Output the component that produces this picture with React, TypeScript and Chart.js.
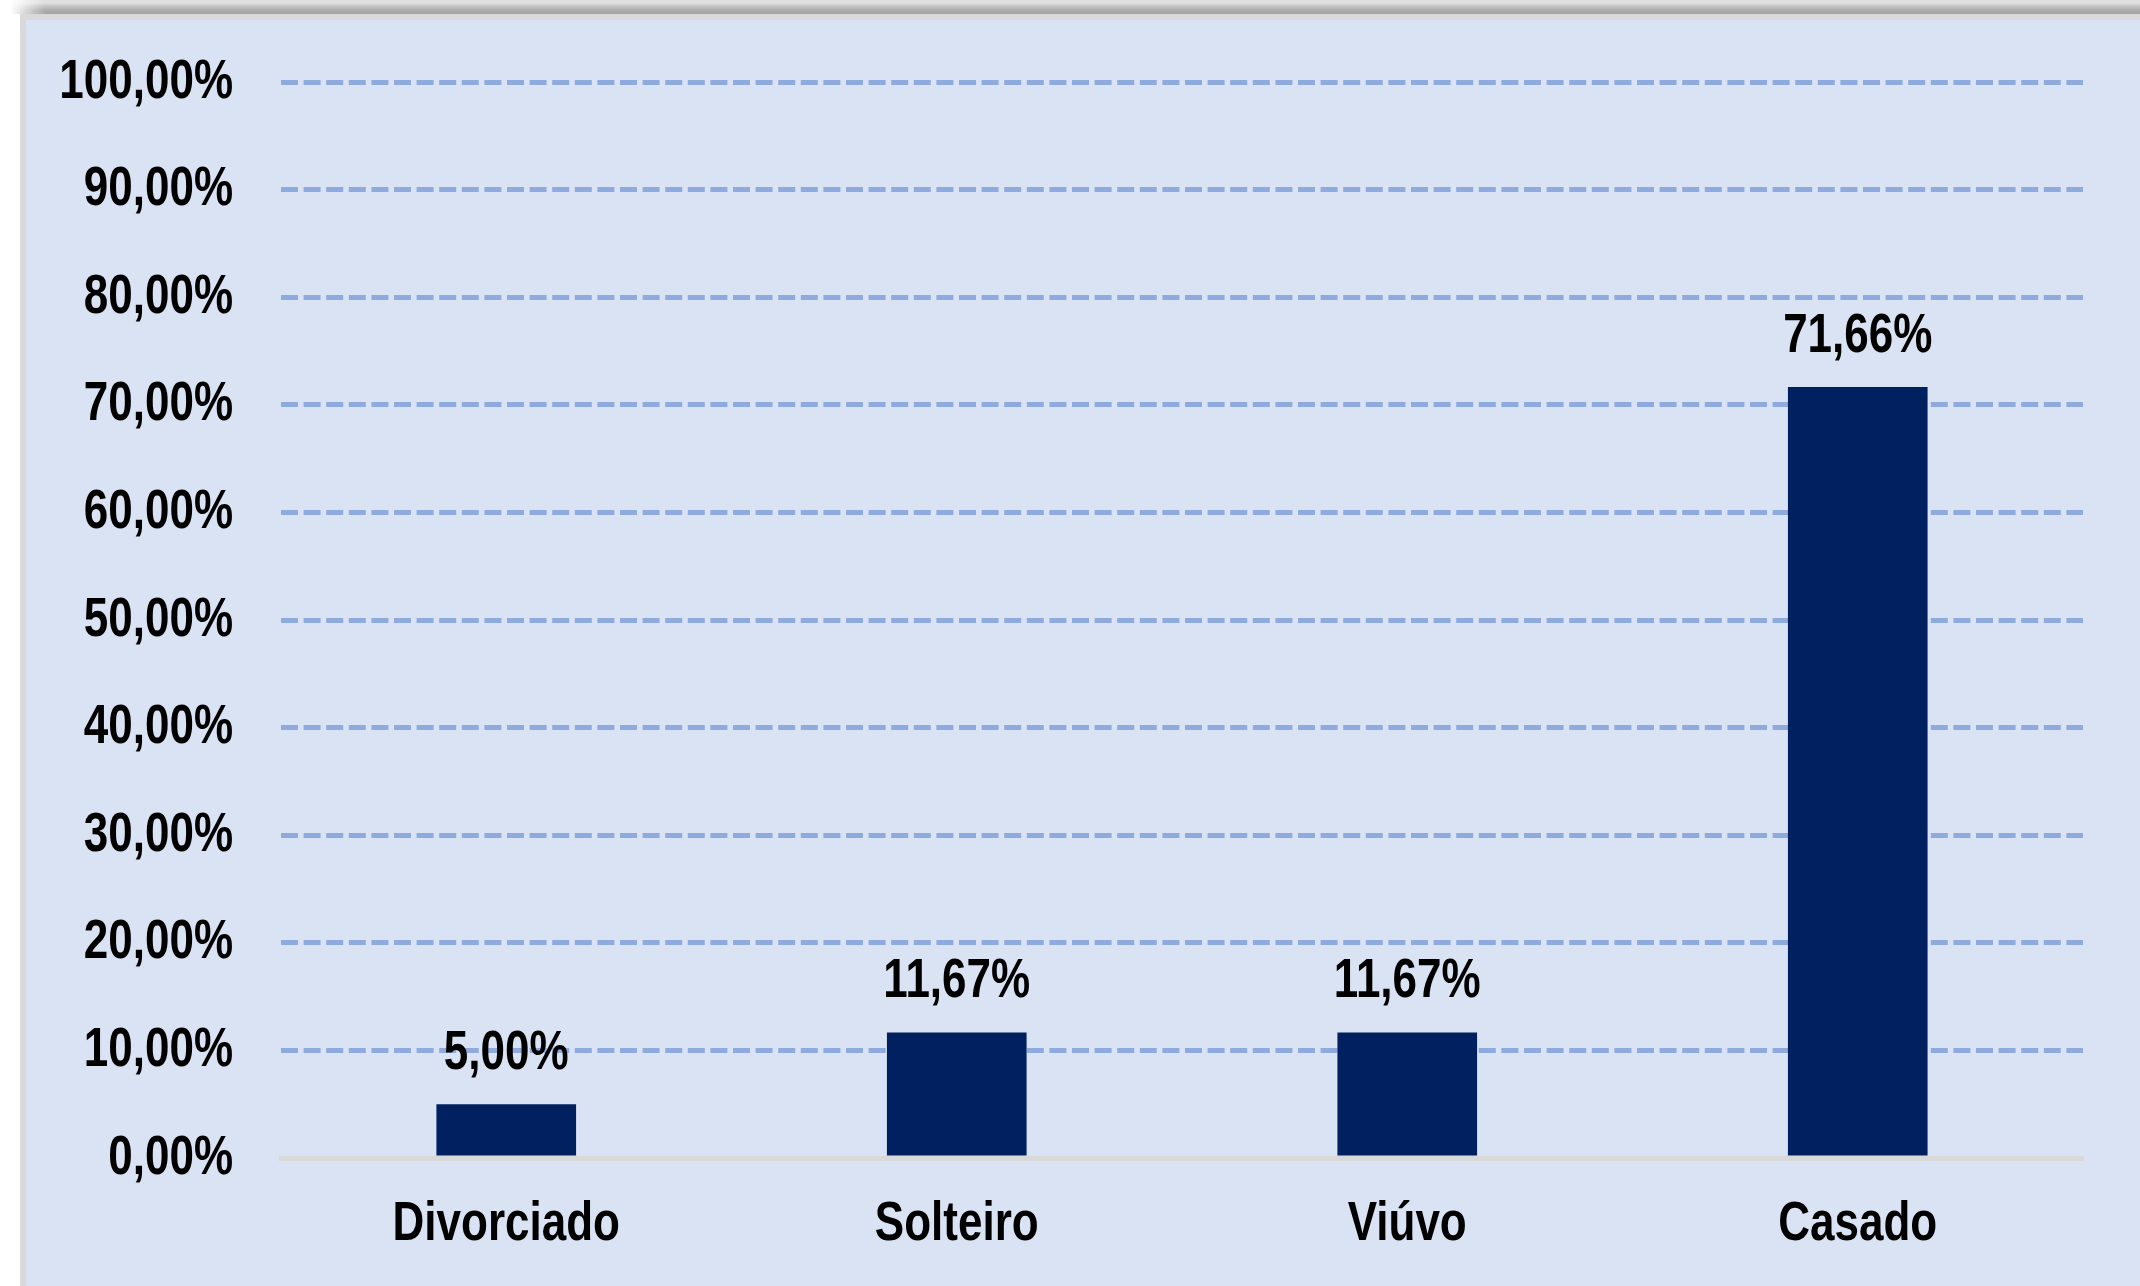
import React, { useEffect, useRef } from 'react';
import { Chart, registerables } from 'chart.js';

Chart.register(...registerables);

const categories: string[] = ['Divorciado', 'Solteiro', 'Viúvo', 'Casado'];
const values: number[] = [5.0, 11.67, 11.67, 71.66];
const valueLabels: string[] = ['5,00%', '11,67%', '11,67%', '71,66%'];
const yMin = 0;
const yMax = 100;
const yStep = 10;

const FONT = '"Liberation Sans", Arial, sans-serif';
const FONT_SIZE = 55;
const SCALE_X = 0.8;

const fmtPct = (v: number) => v.toFixed(2).replace('.', ',') + '%';

function drawNarrow(ctx: CanvasRenderingContext2D, text: string, x: number, y: number, align: CanvasTextAlign) {
  ctx.save();
  ctx.font = `bold ${FONT_SIZE}px ${FONT}`;
  ctx.fillStyle = '#000000';
  ctx.textAlign = align;
  ctx.textBaseline = 'alphabetic';
  ctx.scale(SCALE_X, 1);
  ctx.fillText(text, x / SCALE_X, y);
  ctx.restore();
}

const textPlugin = {
  id: 'narrowText',
  afterDraw(chart: any) {
    const ctx = chart.ctx as CanvasRenderingContext2D;
    const area = chart.chartArea;
    const yScale = chart.scales.y;
    const xScale = chart.scales.x;
    // y tick labels
    yScale.ticks.forEach((t: any) => {
      const py = yScale.getPixelForValue(t.value);
      drawNarrow(ctx, fmtPct(t.value), area.left - 48, py + 15.5, 'right');
    });
    // x category labels
    categories.forEach((c, i) => {
      const px = xScale.getPixelForTick(i);
      drawNarrow(ctx, c, px, area.bottom + 82, 'center');
    });
    // data labels
    const meta = chart.getDatasetMeta(0);
    meta.data.forEach((bar: any, i: number) => {
      drawNarrow(ctx, valueLabels[i], bar.x, bar.y - 35, 'center');
    });
  },
};

export default function App() {
  const canvasRef = useRef<HTMLCanvasElement | null>(null);

  useEffect(() => {
    document.body.style.margin = '0';
    const canvas = canvasRef.current;
    if (!canvas) return;
    const chart = new Chart(canvas, {
      type: 'bar',
      data: {
        labels: categories,
        datasets: [
          {
            data: values,
            backgroundColor: '#002060',
            borderWidth: 0,
            barPercentage: 0.31,
            categoryPercentage: 1,
          },
        ],
      },
      options: {
        animation: false,
        responsive: false,
        devicePixelRatio: 1,
        layout: { padding: { left: 0, right: 57, top: 62, bottom: 0 } },
        plugins: {
          legend: { display: false },
          tooltip: { enabled: false },
        },
        scales: {
          x: {
            grid: { display: false, drawTicks: false },
            border: { display: true, color: '#D9D9D9', width: 5 },
            ticks: { display: false, autoSkip: false },
            afterFit(scale: any) {
              scale.height = 128;
            },
          },
          y: {
            min: yMin,
            max: yMax,
            grid: {
              drawTicks: false,
              lineWidth: 5,
              color: (c: any) => (c.tick && c.tick.value === 0 ? 'rgba(0,0,0,0)' : '#8FAADC'),
            },
            border: { display: false, dash: [17, 5.6] },
            ticks: {
              display: false,
              stepSize: yStep,
            },
            afterFit(scale: any) {
              scale.width = 255;
            },
          },
        },
      },
      plugins: [textPlugin],
    } as any);
    return () => chart.destroy();
  }, []);

  return (
    <div style={{ position: 'relative', width: 2140, height: 1286, background: '#ffffff', overflow: 'hidden' }}>
      <div
        style={{
          position: 'absolute',
          left: 0,
          top: 0,
          width: 2140,
          height: 14,
          background: 'linear-gradient(to bottom, #e0e0e0 0px, #e0e0e0 3px, #c6c6c6 6px, #adadad 10px, #a5a5a5 14px)',
          WebkitMaskImage: 'linear-gradient(to right, transparent 10px, black 45px)',
          maskImage: 'linear-gradient(to right, transparent 10px, black 45px)',
        }}
      />
      <div style={{ position: 'absolute', left: 20, top: 14, width: 2120, height: 6, background: '#D9D9D9' }} />
      <div style={{ position: 'absolute', left: 20, top: 14, width: 6, height: 1272, background: '#D9D9D9' }} />
      <div style={{ position: 'absolute', left: 26, top: 20, width: 2114, height: 1266, background: '#DAE3F3' }}>
        <canvas ref={canvasRef} width={2114} height={1266} style={{ display: 'block', width: 2114, height: 1266 }} />
      </div>
    </div>
  );
}
